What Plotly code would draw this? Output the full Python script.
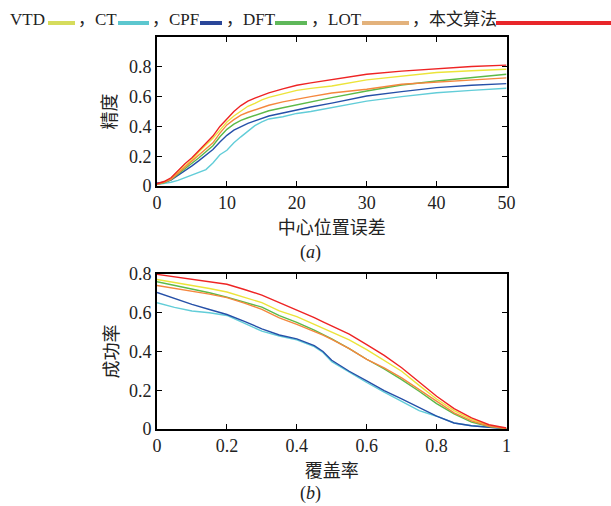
import plotly.graph_objects as go

# ---------------- data ----------------
methods = ["VTD", "CT", "CPF", "DFT", "LOT", "本文算法"]
line_colors = ["#ece43a", "#62cdd8", "#2650a8", "#5cba48", "#f5873e", "#ee2424"]
legend_colors = ["#d6dc5c", "#5cc7cf", "#2a4699", "#5fb85a", "#e3b27c", "#e8262a"]

# (a) precision vs centre location error
x_err = [0, 1, 2, 3, 4, 5, 6, 7, 8, 9, 10, 11, 12, 13, 14, 15, 16, 18, 20, 22, 25, 30, 35, 40, 45, 50]
prec_vtd = [0.012, 0.025, 0.05, 0.09, 0.135, 0.176, 0.23, 0.277, 0.32, 0.375, 0.43, 0.47, 0.505, 0.535, 0.555, 0.578, 0.595, 0.62, 0.642, 0.655, 0.671, 0.712, 0.739, 0.762, 0.773, 0.784]
prec_ct = [0.01, 0.015, 0.025, 0.038, 0.055, 0.074, 0.09, 0.11, 0.155, 0.21, 0.24, 0.29, 0.33, 0.37, 0.405, 0.43, 0.45, 0.465, 0.487, 0.5, 0.525, 0.57, 0.60, 0.626, 0.642, 0.656]
prec_cpf = [0.02, 0.025, 0.04, 0.07, 0.1, 0.135, 0.17, 0.205, 0.245, 0.295, 0.34, 0.375, 0.40, 0.42, 0.437, 0.455, 0.47, 0.49, 0.512, 0.53, 0.556, 0.604, 0.633, 0.66, 0.676, 0.687]
prec_dft = [0.012, 0.022, 0.042, 0.078, 0.115, 0.153, 0.19, 0.23, 0.27, 0.33, 0.38, 0.415, 0.44, 0.458, 0.472, 0.49, 0.505, 0.525, 0.545, 0.563, 0.593, 0.638, 0.678, 0.705, 0.728, 0.75]
prec_lot = [0.012, 0.025, 0.045, 0.085, 0.125, 0.165, 0.205, 0.25, 0.29, 0.355, 0.41, 0.445, 0.475, 0.495, 0.512, 0.528, 0.542, 0.565, 0.585, 0.6, 0.624, 0.649, 0.683, 0.699, 0.712, 0.726]
prec_ours = [0.015, 0.03, 0.055, 0.105, 0.15, 0.19, 0.24, 0.285, 0.335, 0.40, 0.452, 0.50, 0.54, 0.57, 0.59, 0.61, 0.625, 0.652, 0.676, 0.692, 0.712, 0.75, 0.771, 0.789, 0.802, 0.811]

# (b) success rate vs overlap
x_ov = [0, 0.05, 0.1, 0.15, 0.2, 0.25, 0.3, 0.35, 0.4, 0.45, 0.475, 0.5, 0.55, 0.6, 0.65, 0.7, 0.75, 0.8, 0.85, 0.9, 0.95, 1.0]
succ_vtd = [0.772, 0.757, 0.741, 0.725, 0.707, 0.68, 0.652, 0.61, 0.58, 0.54, 0.52, 0.5, 0.46, 0.41, 0.355, 0.298, 0.225, 0.155, 0.095, 0.05, 0.018, 0.003]
succ_ct = [0.652, 0.628, 0.609, 0.6, 0.586, 0.545, 0.505, 0.48, 0.46, 0.425, 0.395, 0.348, 0.292, 0.24, 0.19, 0.143, 0.095, 0.066, 0.031, 0.017, 0.01, 0.002]
succ_cpf = [0.705, 0.673, 0.643, 0.617, 0.591, 0.555, 0.517, 0.485, 0.465, 0.43, 0.40, 0.355, 0.298, 0.248, 0.198, 0.155, 0.11, 0.066, 0.031, 0.017, 0.009, 0.002]
succ_dft = [0.760, 0.742, 0.724, 0.703, 0.681, 0.655, 0.629, 0.585, 0.55, 0.51, 0.488, 0.465, 0.415, 0.36, 0.31, 0.255, 0.195, 0.131, 0.078, 0.036, 0.013, 0.002]
succ_lot = [0.741, 0.726, 0.712, 0.696, 0.678, 0.65, 0.617, 0.573, 0.54, 0.505, 0.485, 0.462, 0.415, 0.359, 0.315, 0.264, 0.205, 0.143, 0.083, 0.042, 0.014, 0.002]
succ_ours = [0.798, 0.785, 0.772, 0.76, 0.747, 0.72, 0.691, 0.652, 0.615, 0.575, 0.553, 0.531, 0.49, 0.436, 0.38, 0.316, 0.24, 0.169, 0.105, 0.057, 0.022, 0.005]

x_ticks_a = [0, 10, 20, 30, 40, 50]
y_ticks = [0, 0.2, 0.4, 0.6, 0.8]
y_tick_text = ["0", "0.2", "0.4", "0.6", "0.8"]
x_ticks_b = [0, 0.2, 0.4, 0.6, 0.8, 1]
x_tick_text_b = ["0", "0.2", "0.4", "0.6", "0.8", "1"]

prec = [prec_vtd, prec_ct, prec_cpf, prec_dft, prec_lot, prec_ours]
succ = [succ_vtd, succ_ct, succ_cpf, succ_dft, succ_lot, succ_ours]

# ---------------- figure ----------------
W, H = 611, 506
SERIF = "Liberation Serif, Times New Roman, serif"
CJK = "Noto Sans CJK SC, sans-serif"

fig = go.Figure()
for name, col, ys in zip(methods, line_colors, prec):
    fig.add_trace(go.Scatter(x=x_err, y=ys, name=name, mode="lines",
                             line=dict(color=col, width=1.4), xaxis="x", yaxis="y",
                             showlegend=False))
for name, col, ys in zip(methods, line_colors, succ):
    fig.add_trace(go.Scatter(x=x_ov, y=ys, name=name, mode="lines",
                             line=dict(color=col, width=1.4), xaxis="x2", yaxis="y2",
                             showlegend=False))

def px_x(p):
    return p / W

def px_y(p):
    return 1 - p / H

axis_common = dict(showline=True, linecolor="black", linewidth=1.6, mirror="ticks",
                   ticks="inside", ticklen=5, tickwidth=1, tickcolor="black",
                   showgrid=False, zeroline=False, automargin=False,
                   tickfont=dict(family=SERIF, size=18, color="#222"))

fig.update_layout(
    width=W, height=H,
    margin=dict(l=0, r=0, t=0, b=0),
    paper_bgcolor="white", plot_bgcolor="white",
    xaxis=dict(domain=[px_x(157), px_x(506.5)], range=[0, 50], tickvals=x_ticks_a,
               anchor="y",
               title=dict(text="中心位置误差", font=dict(family=CJK, size=18, color="#222"), standoff=6),
               **axis_common),
    yaxis=dict(domain=[px_y(186), px_y(37)], range=[0, 1], tickvals=y_ticks, ticktext=y_tick_text,
               anchor="x",
               title=dict(text="精度", font=dict(family=CJK, size=18, color="#222"), standoff=8),
               **axis_common),
    xaxis2=dict(domain=[px_x(157), px_x(506.5)], range=[0, 1], tickvals=x_ticks_b, ticktext=x_tick_text_b,
                anchor="y2",
                title=dict(text="覆盖率", font=dict(family=CJK, size=18, color="#222"), standoff=6),
                **axis_common),
    yaxis2=dict(domain=[px_y(429), px_y(274)], range=[0, 0.8], tickvals=y_ticks, ticktext=y_tick_text,
                anchor="x2",
                title=dict(text="成功率", font=dict(family=CJK, size=18, color="#222"), standoff=6),
                **axis_common),
    showlegend=False,
)

# custom legend: "name swatch，name swatch，..."
legend_labels = ["VTD", "，CT", "，CPF", "，DFT", "，LOT", "，本文算法"]
label_x = [8, 76, 150, 224, 309, 410]
swatches = [(48, 75), (118, 149), (200, 222), (275, 307), (362, 409), (496, 611)]
annotations = []
for tx, lab in zip(label_x, legend_labels):
    annotations.append(dict(x=px_x(tx), y=px_y(20), xref="paper", yref="paper",
                            xanchor="left", yanchor="middle", showarrow=False,
                            text=lab, font=dict(family=SERIF + ", " + CJK, size=17, color="#222")))
shapes = []
for (x0, x1), col in zip(swatches, legend_colors):
    shapes.append(dict(type="line", xref="paper", yref="paper",
                       x0=px_x(x0), x1=px_x(x1), y0=px_y(23), y1=px_y(23),
                       line=dict(color=col, width=4)))

annotations.append(dict(x=px_x(310), y=px_y(252), xref="paper", yref="paper", showarrow=False,
                        xanchor="center", yanchor="middle",
                        text="(<i>a</i>)", font=dict(family=SERIF, size=18, color="#222")))
annotations.append(dict(x=px_x(310), y=px_y(493), xref="paper", yref="paper", showarrow=False,
                        xanchor="center", yanchor="middle",
                        text="(<i>b</i>)", font=dict(family=SERIF, size=18, color="#222")))

fig.update_layout(annotations=annotations, shapes=shapes)

fig.write_html("out.html", config={"displayModeBar": False},
               post_script="document.body.style.margin='0';document.body.style.padding='0';"
                           "document.documentElement.style.overflow='hidden';")
